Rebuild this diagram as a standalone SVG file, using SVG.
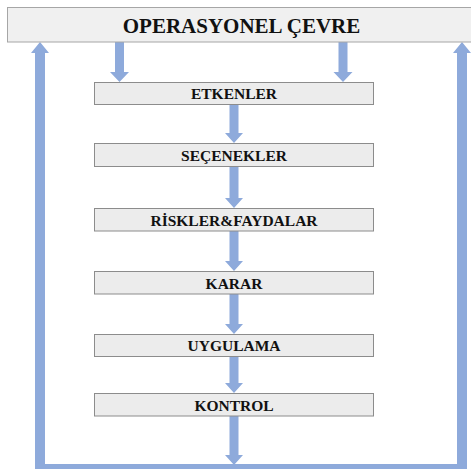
<svg xmlns="http://www.w3.org/2000/svg" width="471" height="469" viewBox="0 0 471 469">
<style>
.box{fill:#ececec;stroke:#8c8c8c;stroke-width:1}
.top{fill:#f0f0f0;stroke:#a6a6a6;stroke-width:1}
.lbl{font-family:"Liberation Serif","Times New Roman",serif;font-weight:bold;font-size:15.5px;fill:#111;text-anchor:middle}
.ttl{font-family:"Liberation Serif","Times New Roman",serif;font-weight:bold;font-size:21px;fill:#111;text-anchor:middle}
.arr{fill:#8eaadb}
</style>
<rect width="471" height="469" fill="#fff"/>
<g id="connectors">
<path class="arr" d="M115,42 H124 V72 H129 L119.5,82 L110,72 H115 Z"/>
<path class="arr" d="M338.5,42 H347.5 V72 H352.5 L343,82 L333.5,72 H338.5 Z"/>
<path class="arr" d="M229.5,105 H238.5 V133 H243 L234,143 L225,133 H229.5 Z"/>
<path class="arr" d="M229.5,167 H238.5 V198 H243 L234,208 L225,198 H229.5 Z"/>
<path class="arr" d="M229.5,231 H238.5 V261 H243 L234,271 L225,261 H229.5 Z"/>
<path class="arr" d="M229.5,294 H238.5 V324 H243 L234,334 L225,324 H229.5 Z"/>
<path class="arr" d="M229.5,356 H238.5 V383 H243 L234,393 L225,383 H229.5 Z"/>
<path class="arr" d="M229.5,416 H238.5 V455 H243 L234,465 L225,455 H229.5 Z"/>
<path class="arr" d="M35,469 V53 H31 L40,42 L49,53 H45 V464 H457 V53 H453 L462,42 L471,53 H467 V469 Z"/>
</g>
<g id="operasyonel">
<rect class="top" x="7.5" y="7.5" width="470" height="34.5"/>
<text class="ttl" x="241.5" y="33">OPERASYONEL ÇEVRE</text>
</g>
<g id="etkenler">
<rect class="box" x="94.5" y="82.5" width="279" height="22"/>
<text class="lbl" x="234" y="99">ETKENLER</text>
</g>
<g id="secenekler">
<rect class="box" x="94.5" y="143.5" width="279" height="23"/>
<text class="lbl" x="234" y="160.5">SEÇENEKLER</text>
</g>
<g id="riskler">
<rect class="box" x="94.5" y="208.5" width="279" height="22.5"/>
<text class="lbl" x="234" y="225.5">RİSKLER&amp;FAYDALAR</text>
</g>
<g id="karar">
<rect class="box" x="94.5" y="271.5" width="279" height="22.5"/>
<text class="lbl" x="234" y="288.5">KARAR</text>
</g>
<g id="uygulama">
<rect class="box" x="94.5" y="334.5" width="279" height="22"/>
<text class="lbl" x="234" y="351">UYGULAMA</text>
</g>
<g id="kontrol">
<rect class="box" x="94.5" y="393.5" width="279" height="22.5"/>
<text class="lbl" x="234" y="410.5">KONTROL</text>
</g>
</svg>
